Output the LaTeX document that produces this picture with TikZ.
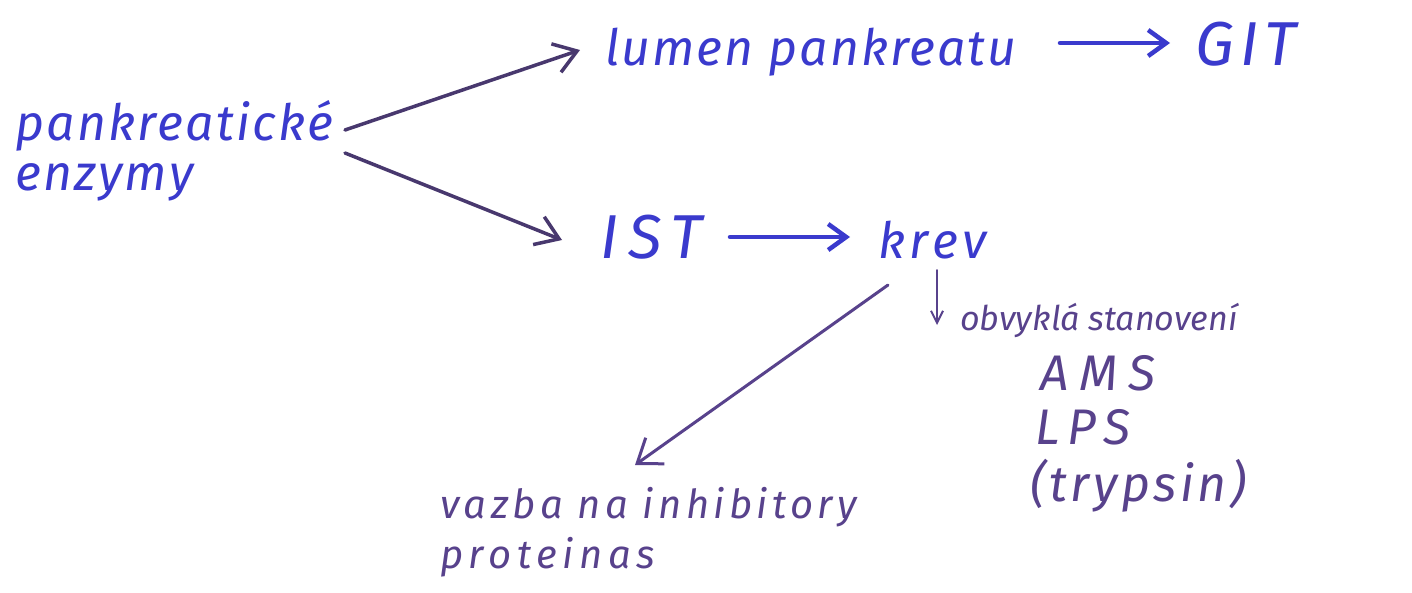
\documentclass[tikz,border=0pt]{standalone}
\usepackage{fontspec}
\setmainfont{Fira Sans}
\usetikzlibrary{arrows.meta}
\definecolor{inkblue}{RGB}{58,58,205}
\definecolor{inkpurple}{RGB}{88,66,140}
\definecolor{inkdark}{RGB}{72,56,110}
\newcommand{\hw}[2]{\itshape\fontsize{#1}{#1}\selectfont\addfontfeatures{LetterSpace=#2}}
\tikzset{
  bluetxt/.style={text=inkblue, inner sep=0pt, anchor=base west},
  purtxt/.style={text=inkpurple, inner sep=0pt, anchor=base west},
  darkarrow/.style={draw=inkdark, line width=3.5pt, line cap=round, -{Straight Barb[length=22pt,width=30pt,line width=3.5pt]}},
  bluearrow/.style={draw=inkblue, line width=4.5pt, line cap=round, -{Straight Barb[length=18pt,width=26pt,line width=4.5pt]}},
  purarrow/.style={draw=inkpurple, line width=3pt, line cap=round, -{Straight Barb[length=22pt,width=32pt,line width=3pt]}},
  smallarrow/.style={draw=inkpurple, line width=2pt, line cap=round, -{Straight Barb[length=12pt,width=12pt,line width=2pt]}},
}
\begin{document}
\begin{tikzpicture}[x=1pt,y=-1pt]
\useasboundingbox[fill=white] (0,0) rectangle (1412,592);
\node[bluetxt, font=\hw{50}{4.5}] (p1) at (15,140) {pankreatické};
\node[bluetxt, font=\hw{50}{4.5}] (p2) at (15,190) {enzymy};
\node[bluetxt, font=\hw{50}{4}] (lumen) at (605,65) {lumen pankreatu};
\node[bluetxt, font=\hw{62}{10}] (git) at (1195,65) {GIT};
\node[bluetxt, font=\hw{62}{16}] (ist) at (600,258) {IST};
\node[bluetxt, font=\hw{50}{9}] (krev) at (878,258) {krev};
\node[purtxt, font=\hw{34}{0}] (obv) at (960,330) {obvyklá stanovení};
\node[purtxt, font=\hw{50}{22}] (ams) at (1040,390) {AMS};
\node[purtxt, font=\hw{50}{16}] (lps) at (1035,444) {LPS};
\node[purtxt, font=\hw{50}{7}] (tryp) at (1030,501) {(trypsin)};
\node[purtxt, font=\hw{40}{11}] (vaz1) at (440,518) {vazba na inhibitory};
\node[purtxt, font=\hw{40}{14}] (vaz2) at (440,568) {proteinas};
\coordinate (a1s) at (345,130);
\coordinate (a1e) at (580,50);
\coordinate (a2s) at (345,153);
\coordinate (a2e) at (562,240);
\draw[darkarrow] (a1s) -- (a1e);
\draw[darkarrow] (a2s) -- (a2e);
\coordinate (g1) at (1060,43);
\coordinate (g2) at (1170,43);
\draw[bluearrow] (g1) -- (g2);
\coordinate (i1) at (730,237);
\coordinate (i2) at (850,237);
\draw[bluearrow] (i1) -- (i2);
\coordinate (k1) at (888,285);
\coordinate (k2) at (635,465);
\draw[purarrow] (k1) -- (k2);
\coordinate (d1) at (937,270);
\coordinate (d2) at (937,325);
\draw[smallarrow] (d1) -- (d2);
\end{tikzpicture}
\end{document}
